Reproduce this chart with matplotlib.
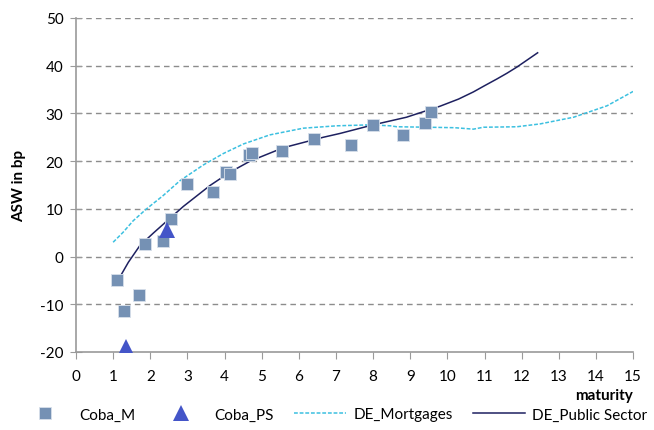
import matplotlib
matplotlib.use('Agg')
import matplotlib.pyplot as plt

plt.rcParams['font.family'] = ['Lato', 'DejaVu Sans']
plt.rcParams['axes.unicode_minus'] = False

# Coba_M points
coba_m_x = [1.1, 1.3, 1.7, 1.85, 2.35, 2.55, 3.0, 3.7, 4.05, 4.15, 4.65, 4.75, 5.55, 6.4, 7.4, 8.0, 8.8, 9.4, 9.55]
coba_m_y = [-5.0, -11.5, -8.0, 2.6, 3.3, 7.9, 15.2, 13.5, 17.8, 17.3, 21.3, 21.7, 22.2, 24.6, 23.4, 27.6, 25.5, 27.9, 30.2]

# Coba_PS points
coba_ps_x = [1.35, 2.45]
coba_ps_y = [-19.0, 5.6]

# DE_Mortgages curve
mort_x = [1.0, 1.27, 1.54, 1.9, 2.35, 2.8, 3.43, 3.97, 4.51, 5.22, 6.12, 7.02, 7.92, 8.46, 8.64,
          9.5, 10.2, 10.7, 10.97, 11.87, 12.5, 13.4, 14.3, 15.0]
mort_y = [3.0, 5.1, 7.5, 10.0, 12.8, 15.9, 19.2, 21.6, 23.6, 25.5, 26.9, 27.4, 27.6, 27.4, 27.2,
          27.1, 27.0, 26.7, 27.1, 27.2, 27.8, 29.2, 31.6, 34.6]

# DE_Public Sector curve
pub_x = [1.1, 1.41, 1.72, 2.08, 2.44, 2.89, 3.61, 4.15, 4.69, 5.58, 6.66, 7.11, 8.0, 8.9, 9.8,
         10.3, 10.7, 11.0, 11.33, 11.6, 11.87, 12.15, 12.43]
pub_y = [-5.4, -1.2, 2.3, 4.9, 7.4, 10.5, 14.9, 17.7, 20.0, 22.8, 25.0, 25.8, 27.6, 29.2, 31.5,
         33.0, 34.5, 35.8, 37.2, 38.4, 39.7, 41.2, 42.7]

fig = plt.figure(figsize=(6.54, 4.31), dpi=100)
ax = fig.add_axes([0.1162, 0.181, 0.8518, 0.775])

ax.plot(coba_m_x, coba_m_y, 's', color='#7591B4', markersize=9, markeredgecolor='#D8E0EA',
        markeredgewidth=0.6, label='Coba_M', zorder=3)
ax.plot(coba_ps_x, coba_ps_y, '^', color='#4455C8', markersize=12, markeredgewidth=0,
        label='Coba_PS', zorder=4)
ax.plot(mort_x, mort_y, color='#3CC0E0', linewidth=1.1, linestyle=(0, (2.5, 1.2)),
        label='DE_Mortgages', zorder=2)
ax.plot(pub_x, pub_y, color='#1E2160', linewidth=1.1, label='DE_Public Sector', zorder=2)

ax.set_xlim(0, 15)
ax.set_ylim(-20, 50)
ax.set_xticks(range(0, 16))
ax.set_yticks(range(-20, 51, 10))
for yv in range(-10, 51, 10):
    ax.axhline(yv, color='#8C8C8C', linewidth=1.0, linestyle=(0, (4, 3)), zorder=1)

for s in ['top', 'right']:
    ax.spines[s].set_visible(False)
for s in ['left', 'bottom']:
    ax.spines[s].set_color('#9A9A9A')
    ax.spines[s].set_linewidth(1.2)
ax.tick_params(axis='y', direction='inout', length=8, color='#9A9A9A', labelsize=11, pad=5)
ax.tick_params(axis='x', direction='out', length=5, color='#9A9A9A', labelsize=11, pad=7)

ax.set_ylabel('ASW in bp', fontweight='bold', fontsize=11, labelpad=10)
ax.set_xlabel('maturity', fontweight='bold', fontsize=11, loc='right', labelpad=4)

fig.legend(loc='center', bbox_to_anchor=(0.51, 0.036), ncol=4, frameon=False, fontsize=11,
           handlelength=3.4, columnspacing=1.3, handletextpad=0.5)

fig.savefig('out.png', dpi=100)
